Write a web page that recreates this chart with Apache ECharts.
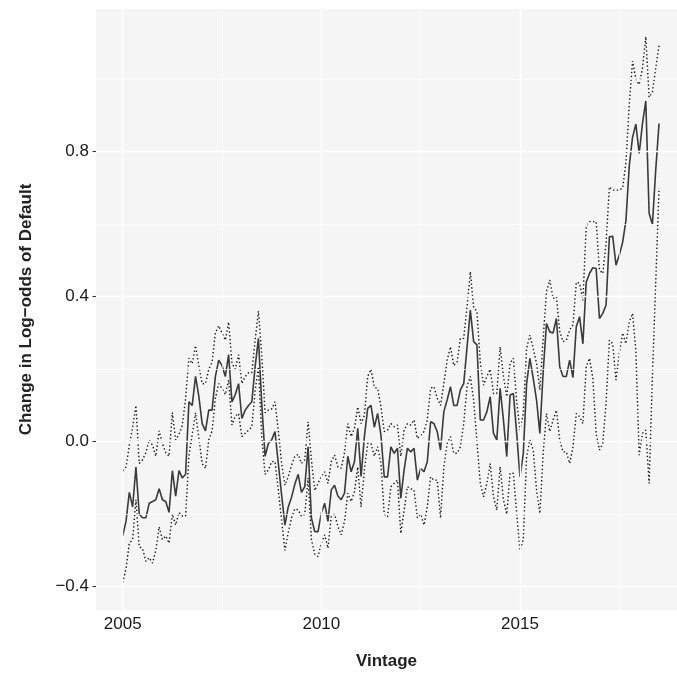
<!DOCTYPE html>
<html>
<head>
<meta charset="utf-8">
<script src="https://cdn.jsdelivr.net/npm/echarts@6/dist/echarts.min.js"></script>
<style>
  html, body { margin: 0; padding: 0; background: #ffffff; }
  #chart { width: 677px; height: 673px; }
</style>
</head>
<body>
<div id="chart"></div>
<script>
// Monthly vintages, January 2005 to July 2018 (one value per month)
const startYear = 2005;

// Point estimate (solid line)
const estimate = [
  -0.26,-0.22,-0.14,-0.18,-0.07,-0.20,-0.21,-0.21,-0.17,-0.165,-0.16,-0.13,
  -0.16,-0.165,-0.195,-0.08,-0.15,-0.08,-0.10,-0.09,0.11,0.10,0.18,0.125,
  0.05,0.03,0.087,0.087,0.18,0.225,0.21,0.18,0.24,0.11,0.13,0.16,
  0.064,0.087,0.10,0.11,0.207,0.285,0.105,-0.04,-0.005,0.005,0.028,-0.06,
  -0.147,-0.23,-0.18,-0.153,-0.117,-0.09,-0.14,-0.124,-0.014,-0.21,-0.248,-0.248,
  -0.197,-0.17,-0.22,-0.133,-0.12,-0.15,-0.16,-0.142,-0.04,-0.083,-0.055,0.037,
  -0.096,0.014,0.092,0.10,0.04,0.078,0.018,-0.097,-0.097,-0.014,-0.032,-0.018,
  -0.156,-0.078,-0.018,-0.028,-0.018,-0.106,-0.074,-0.083,-0.055,0.055,0.05,0.028,
  -0.023,0.083,0.115,0.152,0.10,0.10,0.143,0.16,0.26,0.363,0.276,0.267,
  0.06,0.06,0.083,0.124,0.023,0.005,0.147,0.06,-0.041,0.129,0.133,0.023,
  -0.097,-0.032,0.16,0.23,0.175,0.115,0.023,0.193,0.326,0.303,0.30,0.34,
  0.207,0.18,0.18,0.225,0.177,0.317,0.345,0.27,0.44,0.464,0.48,0.478,
  0.34,0.354,0.377,0.565,0.567,0.487,0.515,0.55,0.61,0.76,0.84,0.876,
  0.795,0.878,0.94,0.63,0.60,0.75,0.878
];

// Upper bound (dotted)
const upper = [
  -0.08,-0.07,-0.01,0.04,0.10,-0.06,-0.05,-0.03,0.005,-0.01,-0.04,0.03,
  -0.005,-0.03,-0.04,0.08,0.005,0.02,0.045,0.12,0.23,0.215,0.265,0.21,
  0.16,0.16,0.20,0.22,0.30,0.32,0.30,0.28,0.33,0.216,0.20,0.24,
  0.16,0.18,0.19,0.19,0.28,0.36,0.24,0.08,0.087,0.09,0.11,0.03,
  -0.06,-0.12,-0.097,-0.065,-0.04,-0.035,-0.06,-0.05,0.055,-0.05,-0.135,-0.115,
  -0.096,-0.083,-0.115,-0.055,-0.037,-0.07,-0.073,-0.03,0.05,0.014,0.037,0.096,
  0.05,0.073,0.18,0.20,0.15,0.147,0.097,0.028,0.032,0.05,0.041,0.046,
  -0.04,0.032,0.05,0.046,0.06,0.009,0.018,0.028,0.06,0.147,0.152,0.12,
  0.10,0.16,0.225,0.262,0.21,0.22,0.285,0.285,0.372,0.469,0.37,0.36,
  0.22,0.156,0.18,0.20,0.133,0.133,0.262,0.18,0.124,0.216,0.23,0.11,
  0.032,0.078,0.257,0.294,0.257,0.216,0.143,0.285,0.414,0.446,0.395,0.40,
  0.305,0.276,0.28,0.308,0.322,0.44,0.437,0.39,0.593,0.607,0.607,0.607,
  0.474,0.464,0.547,0.703,0.694,0.694,0.694,0.70,0.77,0.93,1.05,1.0,
  0.985,1.03,1.117,0.95,0.965,1.03,1.094
];

// Lower bound (dotted)
const lower = [
  -0.389,-0.35,-0.28,-0.27,-0.16,-0.29,-0.295,-0.33,-0.32,-0.335,-0.30,-0.235,
  -0.27,-0.26,-0.28,-0.20,-0.23,-0.195,-0.205,-0.205,-0.04,0.02,0.08,0.01,
  -0.06,-0.074,0.005,0.03,0.12,0.16,0.147,0.13,0.17,0.046,0.07,0.078,
  0.014,0.023,0.032,0.04,0.14,0.207,0.014,-0.09,-0.078,-0.055,-0.055,-0.133,
  -0.216,-0.30,-0.25,-0.21,-0.185,-0.188,-0.206,-0.2,-0.1,-0.27,-0.31,-0.317,
  -0.28,-0.257,-0.294,-0.206,-0.20,-0.234,-0.257,-0.22,-0.142,-0.165,-0.138,-0.07,
  -0.18,-0.078,-0.005,-0.005,-0.04,-0.014,-0.06,-0.2,-0.207,-0.124,-0.115,-0.106,
  -0.253,-0.19,-0.124,-0.13,-0.133,-0.21,-0.2,-0.23,-0.18,-0.097,-0.106,-0.106,
  -0.21,-0.07,-0.005,0.014,-0.032,-0.032,-0.014,0.05,0.152,0.18,0.115,0.0,
  -0.115,-0.152,-0.115,-0.06,-0.152,-0.189,-0.069,-0.16,-0.2,-0.087,-0.087,-0.198,
  -0.30,-0.27,-0.041,0.005,-0.023,-0.133,-0.198,-0.032,0.078,0.028,0.06,0.087,
  0.005,-0.028,-0.028,-0.06,-0.014,0.078,0.069,0.05,0.207,0.23,0.175,0.023,
  -0.023,-0.005,0.106,0.28,0.27,0.17,0.244,0.30,0.27,0.33,0.354,0.25,
  -0.037,0.023,0.032,-0.115,0.18,0.44,0.70
];

// Axis ticks and gridlines
const xTicks = [2005, 2010, 2015];
const xMinorGrid = [2007.5, 2012.5, 2017.5];
const yTicks = [-0.4, 0.0, 0.4, 0.8];
const yMinorGrid = [-0.2, 0.2, 0.6, 1.0];

const xTitle = 'Vintage';
const yTitle = 'Change in Log\u2212odds of Default';

// vintages as decimal years (monthly)
const vintages = estimate.map((_, i) => startYear + i / 12);
const pairs = arr => arr.map((v, i) => [vintages[i], v]);

const FONT = '"Liberation Sans", Arial, Helvetica, sans-serif';

const gridLines = []
  .concat(yMinorGrid.map(v => ({ yAxis: v, lineStyle: { width: 0.7 } })))
  .concat(xMinorGrid.map(v => ({ xAxis: v, lineStyle: { width: 0.7 } })))
  .concat(yTicks.map(v => ({ yAxis: v, lineStyle: { width: 1.4 } })))
  .concat(xTicks.map(v => ({ xAxis: v, lineStyle: { width: 1.4 } })));

const chart = echarts.init(document.getElementById('chart'), null, { renderer: 'canvas' });

const dotted = { color: '#151515', width: 1.4, type: [1.4, 2.4], cap: 'butt' };

chart.setOption({
  animation: false,
  backgroundColor: '#ffffff',
  grid: {
    left: 96, right: 0, top: 9, bottom: 63,
    containLabel: false,
    outerBoundsMode: 'none',
    show: true, backgroundColor: '#F5F5F5', borderWidth: 0
  },
  xAxis: {
    type: 'value',
    min: 2004.328, max: 2018.952,
    name: xTitle,
    nameLocation: 'middle',
    nameGap: 43,
    nameTextStyle: { fontFamily: FONT, fontSize: 17, fontWeight: 'bold', color: '#222' },
    axisLine: { show: false },
    axisTick: { show: true, length: 3.5, lineStyle: { color: '#333', width: 1.1 }, customValues: xTicks },
    axisLabel: {
      show: true, margin: 6, fontFamily: FONT, fontSize: 17, color: '#1a1a1a',
      customValues: xTicks,
      formatter: v => String(Math.round(v))
    },
    splitLine: { show: false }
  },
  yAxis: {
    type: 'value',
    min: -0.4643, max: 1.1937,
    name: yTitle,
    nameLocation: 'middle',
    nameGap: 61,
    nameRotate: 90,
    nameTextStyle: { fontFamily: FONT, fontSize: 17, fontWeight: 'bold', color: '#222' },
    axisLine: { show: false },
    axisTick: { show: true, length: 3.5, lineStyle: { color: '#333', width: 1.1 }, customValues: yTicks },
    axisLabel: {
      show: true, margin: 7, fontFamily: FONT, fontSize: 17, color: '#1a1a1a',
      customValues: yTicks,
      formatter: v => (v < 0 ? '\u2212' : '') + Math.abs(v).toFixed(1)
    },
    splitLine: { show: false }
  },
  series: [
    {
      type: 'line',
      name: 'grid',
      data: [],
      z: 1,
      silent: true,
      markLine: {
        silent: true,
        symbol: ['none', 'none'],
        label: { show: false },
        emphasis: { disabled: true },
        animation: false,
        lineStyle: { color: '#ffffff', type: 'solid' },
        data: gridLines
      }
    },
    {
      type: 'line',
      name: 'upper',
      data: pairs(upper),
      z: 3,
      showSymbol: false,
      symbol: 'none',
      silent: true,
      lineStyle: dotted
    },
    {
      type: 'line',
      name: 'lower',
      data: pairs(lower),
      z: 3,
      showSymbol: false,
      symbol: 'none',
      silent: true,
      lineStyle: dotted
    },
    {
      type: 'line',
      name: 'estimate',
      data: pairs(estimate),
      z: 4,
      showSymbol: false,
      symbol: 'none',
      silent: true,
      lineStyle: { color: '#3a3a3a', width: 1.6 }
    }
  ]
});
</script>
</body>
</html>
